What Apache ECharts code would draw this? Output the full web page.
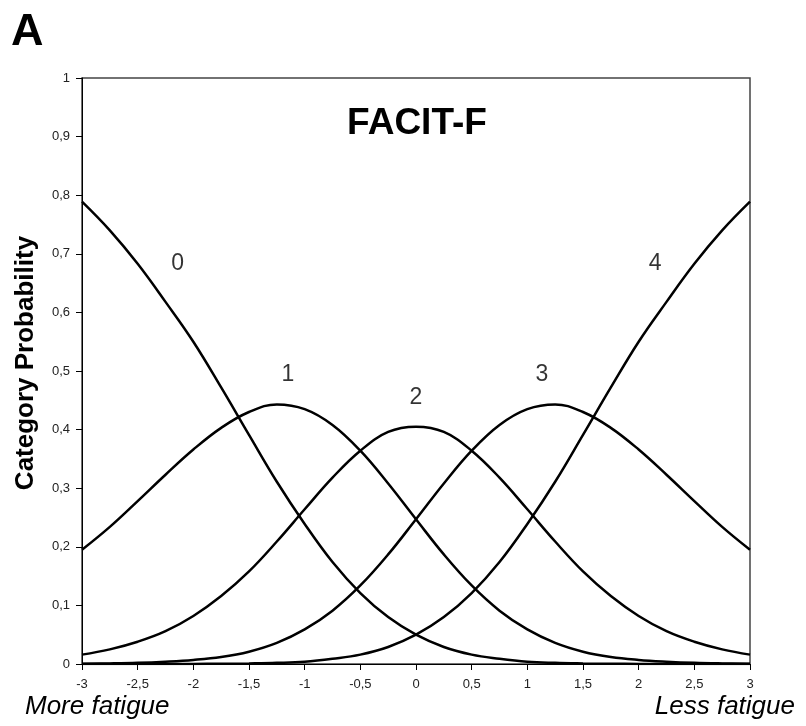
<!DOCTYPE html>
<html><head><meta charset="utf-8">
<script src="https://cdn.jsdelivr.net/npm/echarts@6/dist/echarts.min.js"></script>
<style>html,body{margin:0;padding:0;background:#fff}#c{width:806px;height:726px}</style>
</head><body><div id="c"></div>
<script>
const theta = [-3,-2.75,-2.5,-2.25,-2,-1.75,-1.5,-1.25,-1,-0.75,-0.5,-0.25,0,0.25,0.5,0.75,1,1.25,1.5,1.75,2,2.25,2.5,2.75,3];
const cat0 = [0.789,0.740,0.683,0.618,0.550,0.472,0.391,0.311,0.239,0.174,0.121,0.080,0.050,0.029,0.016,0.009,0.004,0.002,0.001,0.0004,0.0002,0.0001,0,0,0];
const cat1 = [0.195,0.234,0.278,0.323,0.366,0.403,0.430,0.443,0.435,0.408,0.364,0.308,0.247,0.187,0.134,0.091,0.059,0.036,0.021,0.012,0.007,0.004,0.002,0.001,0.0005];
const cat2 = [0.016,0.025,0.038,0.056,0.082,0.116,0.158,0.209,0.264,0.318,0.364,0.396,0.405,0.396,0.364,0.318,0.264,0.209,0.158,0.116,0.082,0.056,0.038,0.025,0.016];
const cat3 = [0.0005,0.001,0.002,0.004,0.007,0.012,0.021,0.036,0.059,0.091,0.134,0.187,0.247,0.308,0.364,0.408,0.435,0.443,0.430,0.403,0.366,0.323,0.278,0.234,0.195];
const cat4 = [0,0,0,0.0001,0.0002,0.0004,0.001,0.002,0.004,0.009,0.016,0.029,0.050,0.080,0.121,0.174,0.239,0.311,0.391,0.472,0.550,0.618,0.683,0.740,0.789];
const catNames = ['0','1','2','3','4'];
const labelPos = [[-2.14,0.684],[-1.15,0.493],[0,0.454],[1.13,0.493],[2.147,0.684]];

const FONT = 'Liberation Sans, Arial, sans-serif';
const series = [cat0,cat1,cat2,cat3,cat4].map((d,i)=>({
  type:'line', name:catNames[i], data: theta.map((t,j)=>[t,d[j]]),
  smooth:0.4, symbol:'none', lineStyle:{color:'#000',width:2.5}, z:3
}));
series.push({
  type:'scatter', symbolSize:0, silent:true,
  data: labelPos.map((p,i)=>({value:p, name:catNames[i]})),
  label:{show:true, position:'inside', formatter:p=>p.name, color:'#000', fontSize:23, fontFamily:FONT}
});

const chart = echarts.init(document.getElementById('c'));
chart.setOption({
  animation:false,
  backgroundColor:'#fff',
  title:[
    {text:'A', left:6, top:5, textStyle:{fontSize:45, fontWeight:'bold', color:'#000', fontFamily:FONT}},
    {text:'FACIT-F', left:412, textAlign:'center', top:100, textStyle:{fontSize:37, fontWeight:'bold', color:'#000', fontFamily:FONT}},
    {text:'More fatigue', left:20, top:689, textStyle:{fontSize:26, fontStyle:'italic', fontWeight:'normal', color:'#000', fontFamily:FONT}},
    {text:'Less fatigue', right:6, top:689, textStyle:{fontSize:26, fontStyle:'italic', fontWeight:'normal', color:'#000', fontFamily:FONT}}
  ],
  grid:{left:82, right:56, top:78, bottom:62, show:true, borderColor:'#444', borderWidth:1.5, containLabel:false},
  xAxis:{type:'value', min:-3, max:3, interval:0.5,
    axisLine:{onZero:false, lineStyle:{color:'#000', width:1}},
    axisTick:{show:true, length:6, lineStyle:{color:'#000'}},
    splitLine:{show:false},
    axisLabel:{color:'#222', fontSize:13, margin:14, fontFamily:FONT, formatter:v=>String(v).replace('.',',')}
  },
  yAxis:{type:'value', min:0, max:1, interval:0.1,
    name:'Category Probability', nameLocation:'middle', nameGap:43,
    nameTextStyle:{fontSize:26, fontWeight:'bold', color:'#000', fontFamily:FONT, padding:[0,0,0,16]},
    axisLine:{show:true, onZero:false, lineStyle:{color:'#000', width:1}},
    axisTick:{show:true, length:6, lineStyle:{color:'#000'}},
    splitLine:{show:false},
    axisLabel:{color:'#222', fontSize:13, margin:12, fontFamily:FONT, formatter:v=>String(Math.round(v*10)/10).replace('.',',')}
  },
  series
});
</script></body></html>
